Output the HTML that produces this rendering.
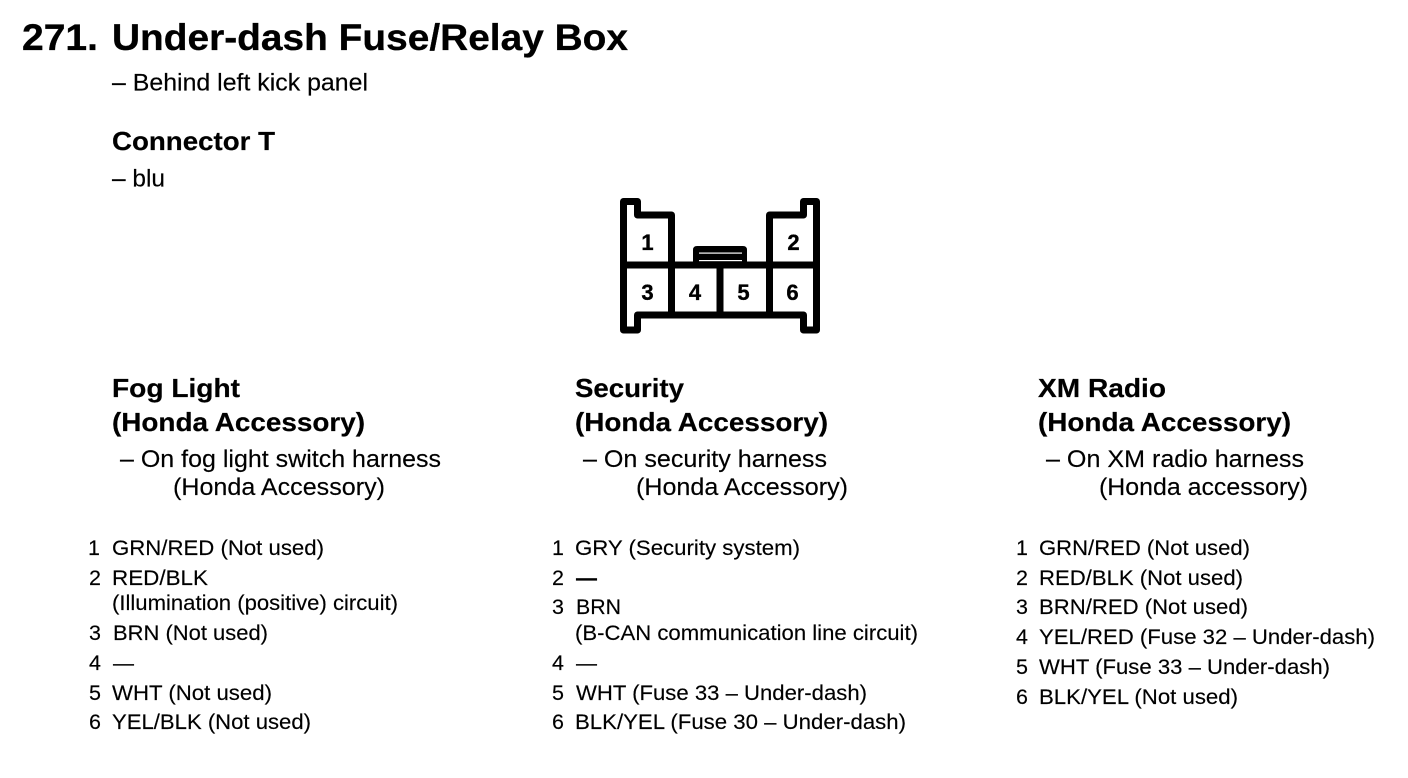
<!DOCTYPE html>
<html><head><meta charset="utf-8"><style>
html,body{margin:0;padding:0;background:#fff;width:1408px;height:778px;overflow:hidden}
svg{display:block}
text{font-family:"Liberation Sans",Arial,sans-serif;fill:#000;white-space:pre}
.t{font-size:37px;font-weight:700;stroke:#000;stroke-width:.3px}
.h{font-size:26px;font-weight:700;stroke:#000;stroke-width:.2px}
.s{font-size:24px;stroke:#000;stroke-width:.15px}
.b{font-size:21.5px;stroke:#000;stroke-width:.15px}
.n{font-size:21.5px;text-anchor:end;stroke:#000;stroke-width:.15px}
.c{font-size:22px;font-weight:700;text-anchor:middle;stroke:#000;stroke-width:.35px}
</style></head><body>
<svg width="1408" height="778" viewBox="0 0 1408 778" xmlns="http://www.w3.org/2000/svg">
<text class="t" x="22" y="50" lengthAdjust="spacingAndGlyphs" textLength="76">271.</text>
<text class="t" x="112" y="50" lengthAdjust="spacingAndGlyphs" textLength="516">Under-dash Fuse/Relay Box</text>
<text class="s" x="112" y="90.5" lengthAdjust="spacingAndGlyphs" textLength="256">– Behind left kick panel</text>
<text class="h" x="112" y="150" lengthAdjust="spacingAndGlyphs" textLength="163">Connector T</text>
<text class="s" x="112" y="186.5" lengthAdjust="spacingAndGlyphs" textLength="53">– blu</text>

<g fill="none" stroke="#000" stroke-width="7" stroke-linejoin="round" stroke-linecap="round">
<path d="M623.5 265V201.5H637.5V215H671.5V265"/>
<path d="M816.5 265V201.5H803.5V215H769.5V265"/>
<path d="M623.5 265H816.5"/>
<path d="M623.5 265V330H637.5V315H803.5V330H816.5V265"/>
<path d="M671.5 265V315M720 265V315M769.5 265V315"/>
</g>
<path d="M693 265V250Q693 246 697 246H743Q747 246 747 250V265Z" fill="#000"/>
<rect x="699" y="252.5" width="43" height="1.2" fill="#fff"/>
<rect x="699" y="260" width="43" height="1.2" fill="#fff"/>
<text class="c" x="647.5" y="250">1</text>
<text class="c" x="793.5" y="250">2</text>
<text class="c" x="647.5" y="300">3</text>
<text class="c" x="695" y="300">4</text>
<text class="c" x="743.5" y="300">5</text>
<text class="c" x="792.5" y="300">6</text>

<text class="h" x="112" y="397" lengthAdjust="spacingAndGlyphs" textLength="128">Fog Light</text>
<text class="h" x="112" y="431" lengthAdjust="spacingAndGlyphs" textLength="253">(Honda Accessory)</text>
<text class="s" x="120" y="467" lengthAdjust="spacingAndGlyphs" textLength="321">– On fog light switch harness</text>
<text class="s" x="173" y="495" lengthAdjust="spacingAndGlyphs" textLength="212">(Honda Accessory)</text>

<text class="h" x="575" y="397" lengthAdjust="spacingAndGlyphs" textLength="109">Security</text>
<text class="h" x="575" y="431" lengthAdjust="spacingAndGlyphs" textLength="253">(Honda Accessory)</text>
<text class="s" x="583" y="467" lengthAdjust="spacingAndGlyphs" textLength="244">– On security harness</text>
<text class="s" x="636" y="495" lengthAdjust="spacingAndGlyphs" textLength="212">(Honda Accessory)</text>

<text class="h" x="1038" y="397" lengthAdjust="spacingAndGlyphs" textLength="128">XM Radio</text>
<text class="h" x="1038" y="431" lengthAdjust="spacingAndGlyphs" textLength="253">(Honda Accessory)</text>
<text class="s" x="1046" y="467" lengthAdjust="spacingAndGlyphs" textLength="258">– On XM radio harness</text>
<text class="s" x="1099" y="495" lengthAdjust="spacingAndGlyphs" textLength="209">(Honda accessory)</text>

<text class="n" x="100" y="555">1</text>
<text class="b" x="112" y="555" lengthAdjust="spacingAndGlyphs" textLength="212">GRN/RED (Not used)</text>
<text class="n" x="101" y="585">2</text>
<text class="b" x="112" y="585" lengthAdjust="spacingAndGlyphs" textLength="96">RED/BLK</text>
<text class="b" x="112" y="610" lengthAdjust="spacingAndGlyphs" textLength="286">(Illumination (positive) circuit)</text>
<text class="n" x="101" y="640">3</text>
<text class="b" x="113" y="640" lengthAdjust="spacingAndGlyphs" textLength="155">BRN (Not used)</text>
<text class="n" x="101" y="670">4</text>
<text class="b" x="113" y="670" lengthAdjust="spacingAndGlyphs" textLength="21">—</text>
<text class="n" x="101" y="700">5</text>
<text class="b" x="112" y="700" lengthAdjust="spacingAndGlyphs" textLength="160">WHT (Not used)</text>
<text class="n" x="101" y="729">6</text>
<text class="b" x="112" y="729" lengthAdjust="spacingAndGlyphs" textLength="199">YEL/BLK (Not used)</text>

<text class="n" x="564" y="555">1</text>
<text class="b" x="575" y="555" lengthAdjust="spacingAndGlyphs" textLength="225">GRY (Security system)</text>
<text class="n" x="564" y="585">2</text>
<text class="b" x="576" y="585" lengthAdjust="spacingAndGlyphs" textLength="21" style="font-weight:700">—</text>
<text class="n" x="564" y="614">3</text>
<text class="b" x="576" y="614" lengthAdjust="spacingAndGlyphs" textLength="45">BRN</text>
<text class="b" x="575" y="640" lengthAdjust="spacingAndGlyphs" textLength="343">(B-CAN communication line circuit)</text>
<text class="n" x="564" y="670">4</text>
<text class="b" x="576" y="670" lengthAdjust="spacingAndGlyphs" textLength="21">—</text>
<text class="n" x="564" y="700">5</text>
<text class="b" x="576" y="700" lengthAdjust="spacingAndGlyphs" textLength="291">WHT (Fuse 33 – Under-dash)</text>
<text class="n" x="564" y="729">6</text>
<text class="b" x="575" y="729" lengthAdjust="spacingAndGlyphs" textLength="331">BLK/YEL (Fuse 30 – Under-dash)</text>

<text class="n" x="1028" y="555">1</text>
<text class="b" x="1039" y="555" lengthAdjust="spacingAndGlyphs" textLength="211">GRN/RED (Not used)</text>
<text class="n" x="1028" y="585">2</text>
<text class="b" x="1039" y="585" lengthAdjust="spacingAndGlyphs" textLength="204">RED/BLK (Not used)</text>
<text class="n" x="1028" y="614">3</text>
<text class="b" x="1039" y="614" lengthAdjust="spacingAndGlyphs" textLength="209">BRN/RED (Not used)</text>
<text class="n" x="1028" y="644">4</text>
<text class="b" x="1039" y="644" lengthAdjust="spacingAndGlyphs" textLength="336">YEL/RED (Fuse 32 – Under-dash)</text>
<text class="n" x="1028" y="674">5</text>
<text class="b" x="1039" y="674" lengthAdjust="spacingAndGlyphs" textLength="291">WHT (Fuse 33 – Under-dash)</text>
<text class="n" x="1028" y="704">6</text>
<text class="b" x="1039" y="704" lengthAdjust="spacingAndGlyphs" textLength="199">BLK/YEL (Not used)</text>
</svg>
</body></html>
